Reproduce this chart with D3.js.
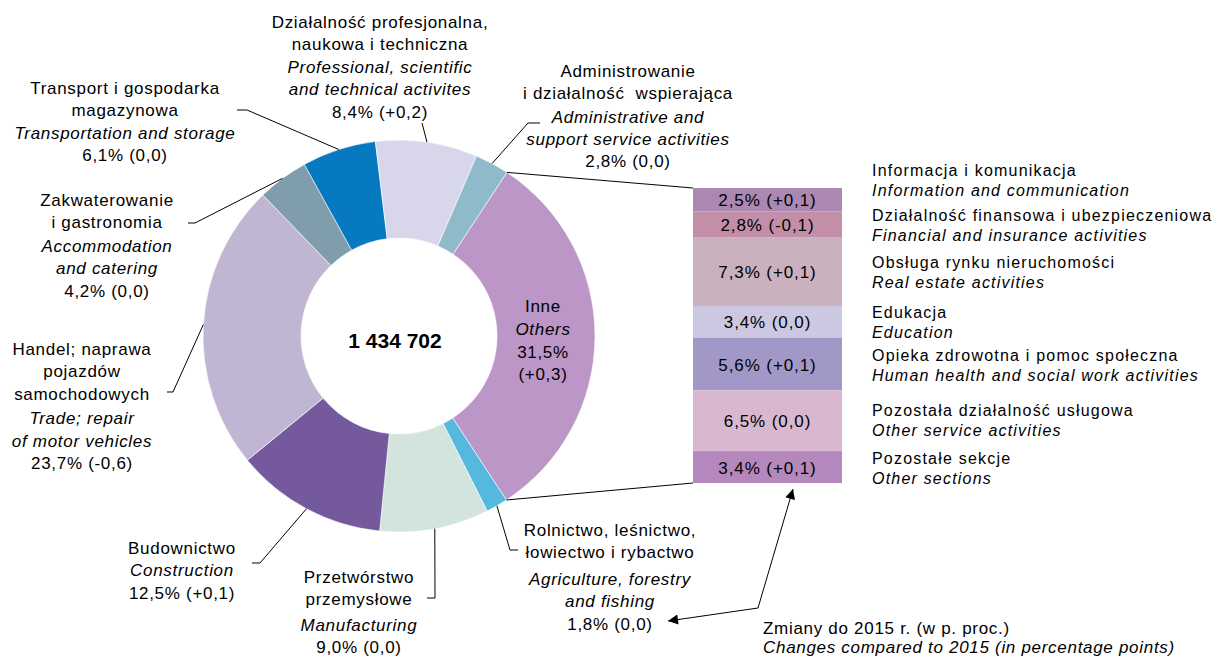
<!DOCTYPE html>
<html>
<head>
<meta charset="utf-8">
<script src="https://cdn.jsdelivr.net/npm/d3@7"></script>
<style>
    body { margin: 0; background: #fff; }
    text { font-family: "Liberation Sans", Arial, sans-serif; fill: #000; white-space: pre; }
</style>
</head>
<body>
<div id="chart"></div>
<script>
const total = 1434702;

const sectorNames = [
    "Inne",
    "Rolnictwo, leśnictwo,\nłowiectwo i rybactwo",
    "Przetwórstwo\nprzemysłowe",
    "Budownictwo",
    "Handel; naprawa\npojazdów\nsamochodowych",
    "Zakwaterowanie\ni gastronomia",
    "Transport i gospodarka\nmagazynowa",
    "Działalność profesjonalna,\nnaukowa i techniczna",
    "Administrowanie\ni działalność  wspierająca"
];
const sectorNamesEn = [
    "Others",
    "Agriculture, forestry\nand fishing",
    "Manufacturing",
    "Construction",
    "Trade; repair\nof motor vehicles",
    "Accommodation\nand catering",
    "Transportation and storage",
    "Professional, scientific\nand technical activites",
    "Administrative and\nsupport service activities"
];
const sectorShares  = [31.5, 1.8, 9.0, 12.5, 23.7, 4.2, 6.1, 8.4, 2.8];
const sectorChanges = [0.3, 0.0, 0.0, 0.1, -0.6, 0.0, 0.0, 0.2, 0.0];

const otherNames = [
    "Informacja i komunikacja",
    "Działalność finansowa i ubezpieczeniowa",
    "Obsługa rynku nieruchomości",
    "Edukacja",
    "Opieka zdrowotna i pomoc społeczna",
    "Pozostała działalność usługowa",
    "Pozostałe sekcje"
];
const otherNamesEn = [
    "Information and communication",
    "Financial and insurance activities",
    "Real estate activities",
    "Education",
    "Human health and social work activities",
    "Other service activities",
    "Other sections"
];
const otherShares  = [2.5, 2.8, 7.3, 3.4, 5.6, 6.5, 3.4];
const otherChanges = [0.1, -0.1, 0.1, 0.0, 0.1, 0.0, 0.1];

const noteLines = ["Zmiany do 2015 r. (w p. proc.)", "Changes compared to 2015 (in percentage points)"];

// colours
const sectorColors = ["#bc96c6", "#55b8de", "#d3e4dd", "#745a9c", "#c0b6d3", "#809dab", "#0779c0", "#d8d6ea", "#8ebac9"];
const otherColors  = ["#ab88b1", "#c38ea8", "#c9b1be", "#cdc8e2", "#a298c8", "#d8b8d0", "#b488bd"];

const width = 1212;
const height = 657;

const fmtPct = v => v.toFixed(1).replace(".", ",");
const fmtChange = v => (v > 0 ? "+" : v < 0 ? "-" : "") + fmtPct(Math.abs(v));
const fmtTotal = d3.formatLocale({ decimal: ",", thousands: " ", grouping: [3], currency: ["", ""] }).format(",");

const svg = d3.select("#chart")
    .append("svg")
    .attr("width", width)
    .attr("height", height);

//====================
// donut
//====================
const cx = 399, cy = 336;
const outerR = 196, innerR = 98;
const startDeg = 33.4;

const pie = d3.pie()
    .sort(null)
    .startAngle(startDeg * Math.PI / 180)
    .endAngle(startDeg * Math.PI / 180 + 2 * Math.PI);

const arcs = pie(sectorShares);

const arcGen = d3.arc()
    .innerRadius(innerR)
    .outerRadius(outerR);

const donut = svg.append("g")
    .attr("transform", `translate(${cx}, ${cy})`);

donut.selectAll("path")
    .data(arcs)
    .join("path")
        .attr("d", arcGen)
        .attr("fill", (d, i) => sectorColors[i])
        .attr("stroke", "#fff")
        .attr("stroke-width", 0.6);

svg.append("text")
    .attr("x", cx - 4)
    .attr("y", cy + 4)
    .attr("text-anchor", "middle")
    .attr("dominant-baseline", "central")
    .style("font-size", "21px")
    .style("font-weight", "bold")
    .text(fmtTotal(total));

const outerPoint = a => [cx + outerR * Math.sin(a), cy - outerR * Math.cos(a)];

//====================
// slice labels
//====================
const fontSize = 17;
const spacing = "0.7px";
const lineH = 22.5;

// x, y of first line centre, extra gap before English lines, leader start points
const labelLayout = [
    { x: 543, y: 306, gap: 1, lead: null },
    { x: 610, y: 530, gap: 4, lead: [[518, 550], [510, 550]] },
    { x: 359, y: 577, gap: 3, lead: [[427, 598], [435, 598]] },
    { x: 182, y: 548, gap: 0, lead: [[252, 563], [260, 563]] },
    { x: 82,  y: 349, gap: 2, lead: [[167, 392], [173, 392]] },
    { x: 107, y: 200, gap: 1, lead: [[188, 223], [195, 223]] },
    { x: 125, y: 88,  gap: 0, lead: [[237, 110], [247, 110]] },
    { x: 380, y: 22,  gap: 0, lead: [[422, 123]] },
    { x: 628, y: 71,  gap: 2, lh: 22, lead: [[540, 123], [528, 123]] }
];

arcs.forEach((d, i) => {
    const lay = labelLayout[i];
    const lh = lay.lh || lineH;
    let lines = [];
    sectorNames[i].split("\n").forEach(t => lines.push({ t, it: false }));
    const nPl = lines.length;
    sectorNamesEn[i].split("\n").forEach(t => lines.push({ t, it: true }));
    if (i === 0) {
        lines.push({ t: fmtPct(sectorShares[i]) + "%", it: false });
        lines.push({ t: "(" + fmtChange(sectorChanges[i]) + ")", it: false });
    } else {
        lines.push({ t: `${fmtPct(sectorShares[i])}% (${fmtChange(sectorChanges[i])})`, it: false });
    }

    svg.append("g")
        .selectAll("text")
        .data(lines)
        .join("text")
            .attr("x", lay.x)
            .attr("y", (l, j) => lay.y + j * lh + (j >= nPl ? lay.gap : 0))
            .attr("text-anchor", "middle")
            .attr("dominant-baseline", "central")
            .style("font-size", fontSize + "px")
            .style("letter-spacing", spacing)
            .style("font-style", l => l.it ? "italic" : "normal")
            .text(l => l.t);

    if (lay.lead) {
        const mid = (d.startAngle + d.endAngle) / 2;
        const pts = lay.lead.concat([outerPoint(mid)]);
        svg.append("path")
            .attr("d", d3.line()(pts))
            .attr("fill", "none")
            .attr("stroke", "#000")
            .attr("stroke-width", 1);
    }
});

//====================
// stacked bar of "Inne"
//====================
const barX = 693, barW = 149;
const yBar = d3.scaleLinear()
    .domain([0, d3.sum(otherShares)])
    .range([188, 483]);

const stack = otherShares.map((v, i) => {
    const y0 = d3.sum(otherShares.slice(0, i));
    return { v, i, y0, y1: y0 + v };
});

svg.append("g")
    .selectAll("rect")
    .data(stack)
    .join("rect")
        .attr("x", barX)
        .attr("y", d => yBar(d.y0))
        .attr("width", barW)
        .attr("height", d => yBar(d.y1) - yBar(d.y0))
        .attr("fill", d => otherColors[d.i]);

svg.append("g")
    .selectAll("text")
    .data(stack)
    .join("text")
        .attr("x", barX + barW / 2)
        .attr("y", d => (yBar(d.y0) + yBar(d.y1)) / 2 + 1)
        .attr("text-anchor", "middle")
        .attr("dominant-baseline", "central")
        .style("font-size", fontSize + "px")
        .style("letter-spacing", "0.9px")
        .text(d => `${fmtPct(d.v)}% (${fmtChange(otherChanges[d.i])})`);

// connectors from the "Inne" slice to the bar
const inne = arcs[0];
[[outerPoint(inne.startAngle), [barX, yBar(0)]],
 [outerPoint(inne.endAngle), [barX, yBar(d3.sum(otherShares))]]].forEach(pts => {
    svg.append("path")
        .attr("d", d3.line()(pts))
        .attr("stroke", "#000")
        .attr("stroke-width", 1);
});

// legend next to the bar
const legendX = 872;
const legendY = [170, 215, 262, 312, 355, 410, 458];
const legendLineH = 20.5;

otherNames.forEach((name, i) => {
    [name, otherNamesEn[i]].forEach((t, j) => {
        svg.append("text")
            .attr("x", legendX)
            .attr("y", legendY[i] + j * legendLineH)
            .attr("dominant-baseline", "central")
            .style("font-size", "16px")
            .style("letter-spacing", "1.2px")
            .style("font-style", j ? "italic" : "normal")
            .text(t);
    });
});

//====================
// arrow and note
//====================
svg.append("defs")
    .append("marker")
    .attr("id", "head")
    .attr("viewBox", "0 0 10 10")
    .attr("refX", 10)
    .attr("refY", 5)
    .attr("markerWidth", 14)
    .attr("markerHeight", 10)
    .attr("markerUnits", "userSpaceOnUse")
    .attr("orient", "auto-start-reverse")
    .append("path")
    .attr("d", "M0,0 L10,5 L0,10 Z")
    .attr("fill", "#000");

svg.append("path")
    .attr("d", d3.line()([[793, 489], [758, 608], [668, 621]]))
    .attr("fill", "none")
    .attr("stroke", "#000")
    .attr("stroke-width", 1)
    .attr("marker-start", "url(#head)")
    .attr("marker-end", "url(#head)");

noteLines.forEach((t, j) => {
    svg.append("text")
        .attr("x", 763)
        .attr("y", 628 + j * 19.5)
        .attr("dominant-baseline", "central")
        .style("font-size", "17px")
        .style("letter-spacing", "0.7px")
        .style("font-style", j ? "italic" : "normal")
        .text(t);
});
</script>
</body>
</html>
